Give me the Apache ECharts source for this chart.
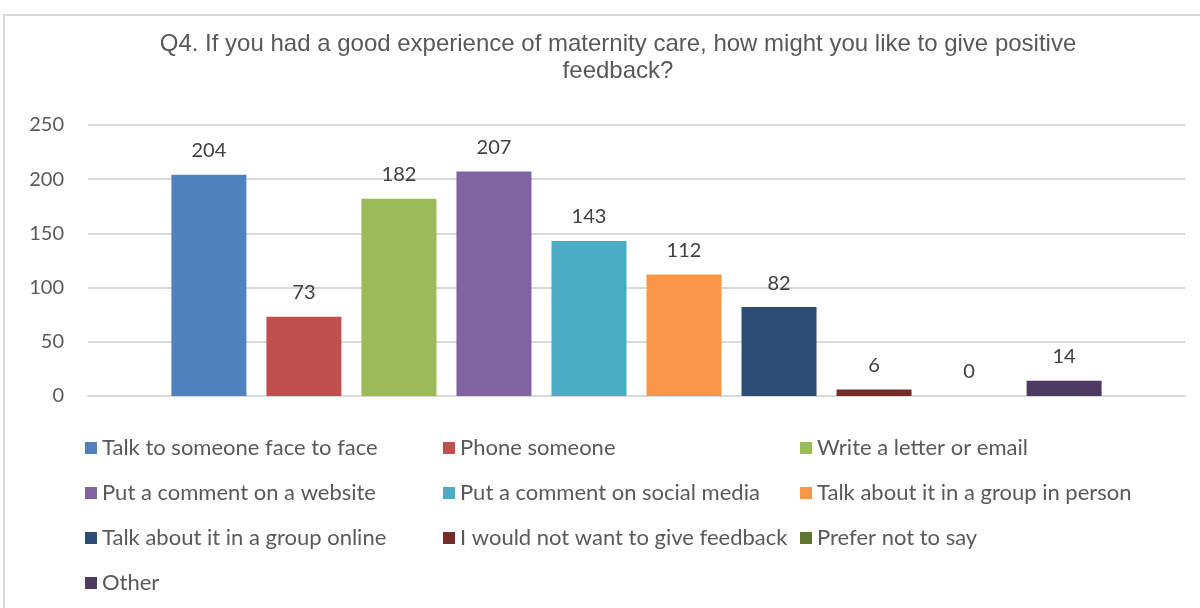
<!DOCTYPE html>
<html>
<head>
<meta charset="utf-8">
<script src="https://cdn.jsdelivr.net/npm/echarts@6/dist/echarts.min.js"></script>
<style>
  html, body { margin: 0; padding: 0; background: #fff; }
  #chart { width: 1200px; height: 608px; }
</style>
</head>
<body>
<div id="chart"></div>
<script>
// Responses to Q4
const titleText = 'Q4. If you had a good experience of maternity care, how might you like to give positive\nfeedback?';
const responses = [
  'Talk to someone face to face',
  'Phone someone',
  'Write a letter or email',
  'Put a comment on a website',
  'Put a comment on social media',
  'Talk about it in a group in person',
  'Talk about it in a group online',
  'I would not want to give feedback',
  'Prefer not to say',
  'Other'
];
const counts = [204, 73, 182, 207, 143, 112, 82, 6, 0, 14];
const colors = ['#4f81bd', '#c0504d', '#9bbb59', '#8064a2', '#4bacc6', '#f79646', '#2c4d75', '#772c2a', '#5f7530', '#4d3b62'];
const yTicks = { min: 0, max: 250, interval: 50 };

const textColor = '#595959';
const bodyFont = 'Lato, "Open Sans", sans-serif';

const chart = echarts.init(document.getElementById('chart'), null, { renderer: 'canvas' });

const series = responses.map((name, i) => ({
  name: name,
  type: 'bar',
  data: [counts[i]],
  barWidth: 75,
  barGap: '26.7%',
  itemStyle: { color: colors[i] },
  label: {
    show: true,
    position: 'top',
    distance: 14,
    color: '#404040',
    fontFamily: bodyFont,
    fontSize: 20
  }
}));

// Legend laid out in three fixed columns
const legendCols = [
  [responses[0], responses[3], responses[6], responses[9]],
  [responses[1], responses[4], responses[7]],
  [responses[2], responses[5], responses[8]]
];
const legendLeft = [85, 443, 800];
const legends = legendCols.map((names, c) => ({
  data: names,
  orient: 'vertical',
  left: legendLeft[c],
  top: 436,
  padding: 0,
  itemWidth: 12,
  itemHeight: 12,
  itemGap: 21,
  icon: 'rect',
  selectedMode: false,
  textStyle: {
    color: textColor,
    fontFamily: bodyFont,
    fontSize: 22,
    lineHeight: 24,
    padding: [0, 0, 0, 0]
  }
}));

chart.setOption({
  animation: false,
  backgroundColor: '#fff',
  title: {
    text: titleText,
    left: 613,
    textAlign: 'center',
    top: 26,
    textStyle: {
      color: textColor,
      fontFamily: '"Liberation Sans", Arial, sans-serif',
      fontWeight: 'normal',
      fontSize: 24,
      lineHeight: 27
    }
  },
  graphic: [{
    type: 'rect',
    shape: { x: 4, y: 15, width: 1210, height: 610 },
    style: { fill: 'none', stroke: '#d9d9d9', lineWidth: 2 },
    silent: true,
    z: -1
  }],
  legend: legends,
  grid: { left: 88, right: 15, top: 125, bottom: 212, containLabel: false },
  xAxis: {
    type: 'category',
    data: [''],
    axisLine: { show: true, lineStyle: { color: '#d9d9d9', width: 2 } },
    axisTick: { show: false },
    axisLabel: { show: false }
  },
  yAxis: {
    type: 'value',
    min: yTicks.min,
    max: yTicks.max,
    interval: yTicks.interval,
    axisLine: { show: false },
    axisTick: { show: false },
    splitLine: { lineStyle: { color: '#d9d9d9', width: 2 } },
    axisLabel: {
      margin: 24,
      color: textColor,
      fontFamily: bodyFont,
      fontSize: 20
    }
  },
  series: series
});
</script>
</body>
</html>
